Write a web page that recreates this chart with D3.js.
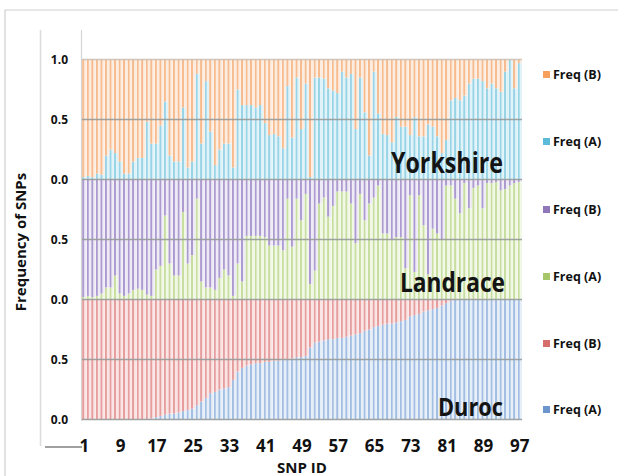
<!DOCTYPE html>
<html>
<head>
<meta charset="utf-8">
<script src="https://cdn.jsdelivr.net/npm/d3@7"></script>
<style>
  html, body { margin: 0; padding: 0; background: #fff; }
  svg { display: block; font-family: "Open Sans", "Liberation Sans", sans-serif; }
</style>
</head>
<body>
<svg id="chart" width="618" height="476"></svg>
<script>
// ---- data ---------------------------------------------------------------
const snpIds = d3.range(1, 98);
const xTickLabels = [1, 9, 17, 25, 33, 41, 49, 57, 65, 73, 81, 89, 97];
const yTickLabels = ["0.0", "0.5", "0.0", "0.5", "0.0", "0.5", "1.0"]; // bottom to top
const breeds = ["Yorkshire", "Landrace", "Duroc"];
const seriesNames = ["Freq (B)", "Freq (A)"];

// Frequency of allele A per SNP (allele B is the complement, 1 - A)
const yorkshireFreqA = [
  0.02, 0.03, 0.02, 0.05, 0.04, 0.20, 0.25, 0.22, 0.15, 0.05,
  0.05, 0.15, 0.18, 0.18, 0.48, 0.30, 0.30, 0.45, 0.65, 0.20,
  0.15, 0.15, 0.60, 0.10, 0.15, 0.88, 0.30, 0.82, 0.40, 0.12,
  0.25, 0.30, 0.30, 0.10, 0.75, 0.62, 0.62, 0.62, 0.60, 0.62,
  0.47, 0.37, 0.38, 0.36, 0.26, 0.78, 0.35, 0.85, 0.42, 0.80,
  0.02, 0.85, 0.85, 0.84, 0.76, 0.74, 0.72, 0.90, 0.85, 0.88,
  0.42, 0.85, 0.56, 0.20, 0.90, 0.55, 0.38, 0.37, 0.31, 0.52,
  0.44, 0.44, 0.37, 0.52, 0.36, 0.36, 0.46, 0.44, 0.36, 0.22,
  0.33, 0.66, 0.68, 0.66, 0.70, 0.80, 0.84, 0.84, 0.82, 0.76,
  0.80, 0.76, 0.73, 0.90, 1.00, 0.76, 0.97
];
const landraceFreqA = [
  0.02, 0.03, 0.02, 0.03, 0.05, 0.10, 0.10, 0.20, 0.05, 0.03,
  0.05, 0.08, 0.09, 0.08, 0.04, 0.03, 0.25, 0.28, 0.70, 0.30,
  0.20, 0.20, 0.73, 0.30, 0.37, 0.84, 0.15, 0.10, 0.10, 0.08,
  0.18, 0.25, 0.20, 0.03, 0.30, 0.15, 0.53, 0.53, 0.53, 0.53,
  0.52, 0.45, 0.45, 0.45, 0.41, 0.84, 0.44, 0.84, 0.66, 0.88,
  0.13, 0.24, 0.80, 0.85, 0.69, 0.78, 0.90, 0.90, 0.90, 0.80,
  0.47, 0.88, 0.66, 0.80, 0.85, 0.95, 0.55, 0.55, 0.50, 0.52,
  0.52, 0.26, 0.87, 0.23, 0.87, 0.62, 0.21, 0.59, 0.55, 0.50,
  0.95, 0.95, 0.84, 0.72, 0.97, 0.76, 0.93, 0.95, 0.76, 0.97,
  0.97, 0.98, 0.91, 0.92, 0.95, 0.97, 0.98
];
const durocFreqA = [
  0.00, 0.00, 0.00, 0.00, 0.00, 0.00, 0.00, 0.00, 0.00, 0.00,
  0.00, 0.00, 0.00, 0.00, 0.00, 0.01, 0.02, 0.03, 0.04, 0.05,
  0.05, 0.06, 0.07, 0.08, 0.09, 0.12, 0.15, 0.18, 0.22, 0.23,
  0.25, 0.26, 0.27, 0.33, 0.40, 0.43, 0.45, 0.46, 0.47, 0.47,
  0.48, 0.48, 0.49, 0.49, 0.50, 0.50, 0.51, 0.52, 0.52, 0.53,
  0.60, 0.64, 0.65, 0.66, 0.67, 0.67, 0.68, 0.68, 0.69, 0.70,
  0.71, 0.72, 0.74, 0.75, 0.77, 0.78, 0.79, 0.80, 0.80, 0.81,
  0.82, 0.83, 0.86, 0.87, 0.88, 0.90, 0.91, 0.92, 0.93, 0.95,
  0.97, 0.99, 1.00, 1.00, 1.00, 1.00, 1.00, 1.00, 1.00, 1.00,
  1.00, 1.00, 1.00, 1.00, 1.00, 1.00, 1.00
];
const freqAByBreed = [yorkshireFreqA, landraceFreqA, durocFreqA];

// stripe colours per breed and allele, plus the legend swatch colour
const palette = [
  { B: { dark: "#f6bb8e", light: "#fdede0", key: "#f7a05c" },
    A: { dark: "#98d3e6", light: "#e0f3f9", key: "#5bbad8" } },
  { B: { dark: "#ac9bd0", light: "#eeeaf6", key: "#8f77b9" },
    A: { dark: "#c8dea1", light: "#f2f8e6", key: "#a6c66a" } },
  { B: { dark: "#e59e9d", light: "#fbe4e4", key: "#d66d6b" },
    A: { dark: "#a3bee3", light: "#e6eef8", key: "#6c95cd" } }
];

// ---- layout -------------------------------------------------------------
const W = 618, H = 476;
const plotLeft = 82, plotRight = 522;
const panelTop0 = 59.5, panelH = 120;
const svg = d3.select("#chart");
const defs = svg.append("defs");

// outer frame and the y-axis box
svg.append("path").attr("d", `M5,${H} L5,10 L${W},10`)
  .attr("fill", "none").attr("stroke", "#cfcfcf").attr("stroke-width", 1.2);
svg.append("rect").attr("x", 40).attr("y", 30).attr("width", 42).attr("height", 417)
  .attr("fill", "#fff");
svg.append("line").attr("x1", 40.5).attr("x2", 40.5).attr("y1", 30).attr("y2", 446)
  .attr("stroke", "#dcdcdc").attr("stroke-width", 1.5);
svg.append("line").attr("x1", 45).attr("x2", 82).attr("y1", 447).attr("y2", 447)
  .attr("stroke", "#a0a0a0").attr("stroke-width", 2);
svg.append("line").attr("x1", 81.5).attr("x2", 81.5).attr("y1", 30).attr("y2", 421)
  .attr("stroke", "#d4d4d4").attr("stroke-width", 1.2);

const x = d3.scaleBand().domain(snpIds).range([plotLeft, plotRight]).padding(0);

// gradients giving each bar its darker edge stripe and light body
function gradId(b, s) { return `g${b}${s}`; }
palette.forEach((p, b) => {
  ["A", "B"].forEach(s => {
    const g = defs.append("linearGradient").attr("id", gradId(b, s))
      .attr("x1", 0).attr("x2", 1).attr("y1", 0).attr("y2", 0);
    [[0, p[s].light], [0.14, p[s].dark], [0.38, p[s].dark], [0.58, p[s].light], [1, p[s].light]]
      .forEach(([o, c]) => g.append("stop").attr("offset", o).attr("stop-color", c));
  });
});

const bars = svg.append("g");
breeds.forEach((breed, b) => {
  const top = panelTop0 + b * panelH;
  const y = d3.scaleLinear().domain([0, 1]).range([top + panelH, top]);
  const rows = snpIds.map((id, i) => ({ id, a: freqAByBreed[b][i] }));
  const g = bars.append("g");
  // Freq (A) from 0 up to a
  g.selectAll(".a").data(rows).join("rect")
    .attr("x", d => x(d.id)).attr("width", x.bandwidth())
    .attr("y", d => y(d.a)).attr("height", d => y(0) - y(d.a))
    .attr("fill", `url(#${gradId(b, "A")})`);
  // Freq (B) from a up to 1
  g.selectAll(".b").data(rows).join("rect")
    .attr("x", d => x(d.id)).attr("width", x.bandwidth())
    .attr("y", y(1)).attr("height", d => y(d.a) - y(1))
    .attr("fill", `url(#${gradId(b, "B")})`);
});

// y axis across the three stacked panels
const yAll = d3.scaleLinear().domain([0, 3]).range([panelTop0 + 3 * panelH, panelTop0]);
const yTicks = d3.range(0, 7).map(k => k * 0.5);
svg.selectAll(".grid").data(yTicks).join("line")
  .attr("x1", plotLeft).attr("x2", plotRight)
  .attr("y1", d => yAll(d)).attr("y2", d => yAll(d))
  .attr("stroke", (d, i) => i === 6 ? "#cdbfb2" : "#979b9a")
  .attr("stroke-width", 1.4).attr("opacity", 0.9);

const yAxis = svg.append("g").attr("transform", "translate(71,0)")
  .call(d3.axisLeft(yAll).tickValues(yTicks).tickSize(0)
    .tickFormat((d, i) => yTickLabels[i]));
yAxis.select(".domain").remove();
yAxis.selectAll("text").attr("font-size", 12).attr("font-weight", 700)
  .attr("fill", "#111").attr("font-family", "'Open Sans', sans-serif").attr("dy", "0.32em");

// x axis
const xAxis = svg.append("g").attr("transform", "translate(0,437)")
  .call(d3.axisBottom(x).tickValues(xTickLabels).tickSize(0));
xAxis.select(".domain").remove();
xAxis.selectAll("text").attr("font-size", 17).attr("font-weight", 700)
  .attr("fill", "#111").attr("font-family", "'Open Sans', sans-serif");

// axis titles
svg.append("text").attr("x", 302).attr("y", 473).attr("text-anchor", "middle")
  .attr("font-size", 15).attr("font-weight", 700).attr("fill", "#111").text("SNP ID");
svg.append("text").attr("transform", "translate(26,242) rotate(-90)")
  .attr("text-anchor", "middle").attr("font-size", 15).attr("font-weight", 700)
  .attr("fill", "#111").text("Frequency of SNPs");

// breed names inside each panel (condensed bold labels)
const breedLabel = [
  { x: 391, y: 173, size: 28, len: 112 },
  { x: 400, y: 292, size: 26, len: 105 },
  { x: 438, y: 416, size: 25, len: 65 }
];
breeds.forEach((breed, b) => {
  const s = breedLabel[b];
  svg.append("text").attr("x", s.x).attr("y", s.y)
    .attr("font-size", s.size).attr("font-weight", 700)
    .attr("textLength", s.len).attr("lengthAdjust", "spacingAndGlyphs")
    .attr("fill", "#141414").text(breed);
});

// legend
const legendY = [75, 142, 210, 277, 344, 410];
const legendItems = [];
breeds.forEach((breed, b) => {
  legendItems.push({ name: seriesNames[0], color: palette[b].B.key });
  legendItems.push({ name: seriesNames[1], color: palette[b].A.key });
});
const lg = svg.append("g").selectAll("g").data(legendItems).join("g")
  .attr("transform", (d, i) => `translate(543,${legendY[i]})`);
lg.append("rect").attr("x", 0).attr("y", -4).attr("width", 7).attr("height", 7)
  .attr("fill", d => d.color);
lg.append("text").attr("x", 10).attr("y", 0).attr("dy", "0.35em")
  .attr("font-size", 12.5).attr("font-weight", 700).attr("fill", "#111").text(d => d.name);
</script>
</body>
</html>
